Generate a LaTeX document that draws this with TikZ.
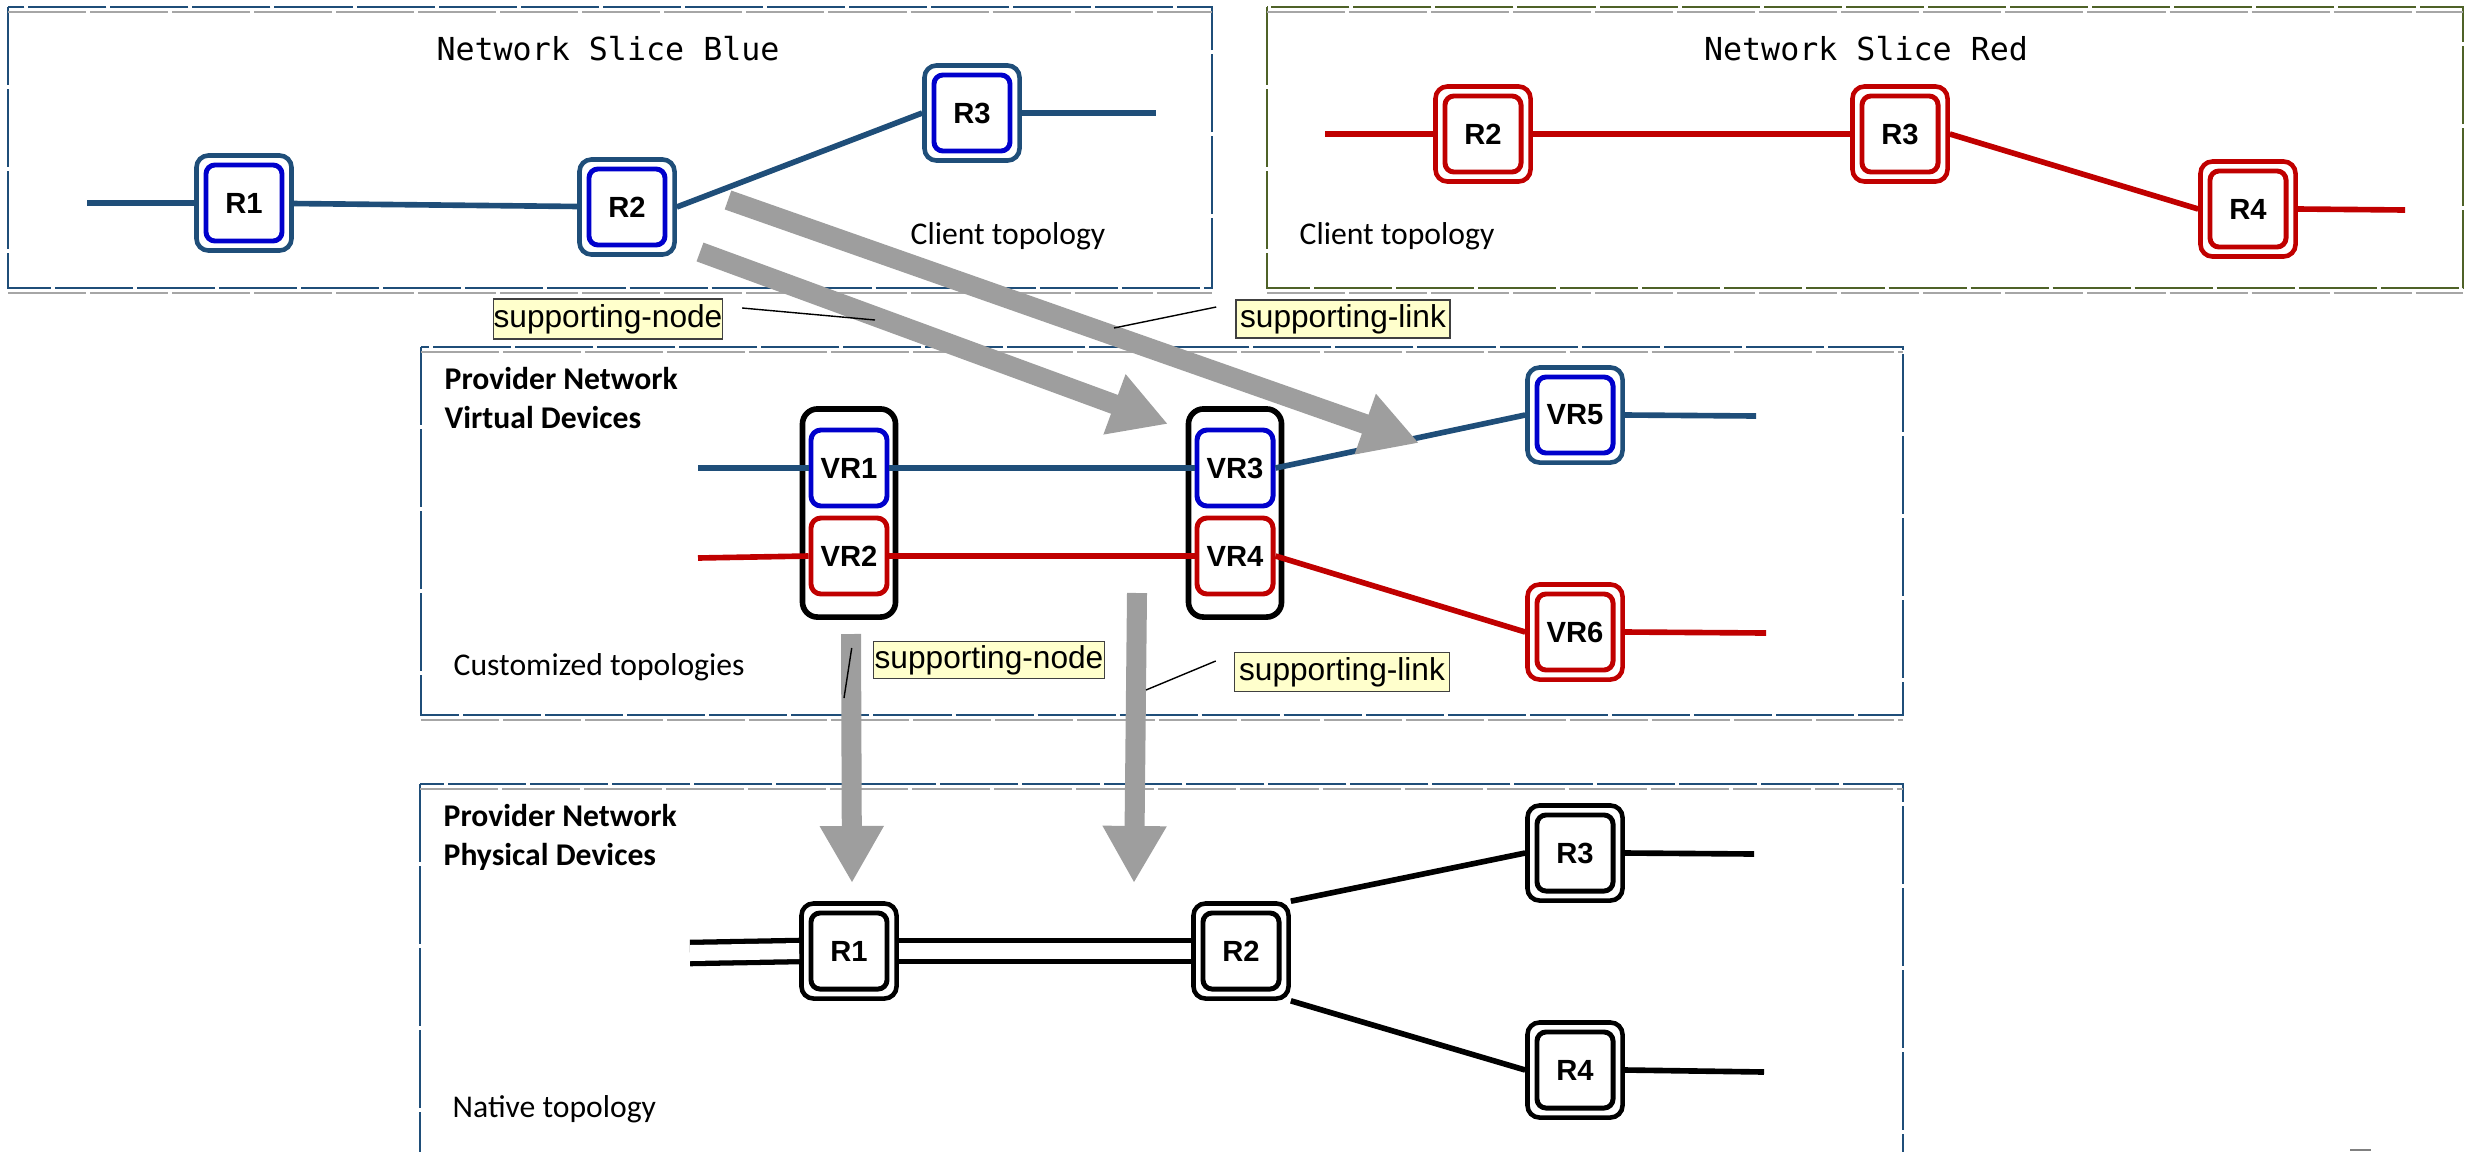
\documentclass[tikz,border=0pt]{standalone}
\usepackage{fontspec}
\setmainfont{Carlito}
\newfontfamily\arialfont{Liberation Sans}
\newfontfamily\monofont{DejaVu Sans Mono}
\usetikzlibrary{arrows.meta}

\definecolor{slateblue}{HTML}{1F4E79}
\definecolor{brightblue}{HTML}{0000CC}
\definecolor{darkred}{HTML}{C00000}
\definecolor{slicegreen}{HTML}{4F6228}
\definecolor{arrowgray}{HTML}{9E9E9E}
\definecolor{tagyellow}{HTML}{FFFFCC}

\newcommand\rtrfont{\arialfont\fontsize{8.3}{10}\selectfont\bfseries}

\begin{document}
\begin{tikzpicture}[
  x=0.01cm, y=-0.01cm,
  font=\fontsize{9}{11}\selectfont,
  rtr/.style 2 args={draw=#1, fill=white, line width=1.3pt, rounded corners=0.12cm,
              minimum size=0.95cm, inner sep=0pt, font=\rtrfont,
              path picture={\draw[#2, line width=1.4pt, rounded corners=0.09cm]
                ([shift={(0.095cm,-0.095cm)}]path picture bounding box.north west) rectangle
                ([shift={(-0.095cm,0.095cm)}]path picture bounding box.south east);}},
  vr/.style={draw=#1, fill=white, line width=1.4pt, rounded corners=0.1cm,
             minimum size=0.76cm, inner sep=0pt, font=\rtrfont},
  grp/.style={draw=black, line width=1.6pt, rounded corners=0.15cm,
              minimum width=0.93cm, minimum height=2.08cm, inner sep=0pt},
  wire/.style={draw=#1, line width=1.6pt},
  dblwire/.style={draw=black, line width=1.5pt, double=white, double distance=0.16cm},
  slicebox/.style={draw=#1, line width=0.8pt, dash pattern=on 0.78cm off 0.04cm},
  ghostline/.style={draw=black!35, line width=0.7pt, dash pattern=on 0.78cm off 0.04cm},
  slicetitle/.style={font=\monofont\fontsize{9}{11}\selectfont},
  caption/.style={anchor=west, align=left, inner xsep=0pt},
  heading/.style={anchor=west, align=left, inner xsep=0pt,
                  font=\fontsize{9}{11.1}\selectfont\bfseries},
  tagbox/.style={draw=black!75, fill=tagyellow, line width=0.4pt, inner sep=0pt,
                 font=\arialfont\fontsize{9}{11}\selectfont},
  lead/.style={draw=black, line width=0.4pt},
  bigarr/.style={draw=arrowgray, line width=0.2cm, -{Triangle[length=0.57cm,width=0.6cm]}},
]
\useasboundingbox (0,0) rectangle (2467,1151);
\clip (0,0) rectangle (2467,1151);

% ---- frames ----
\draw[slicebox=slateblue]  (8,7)     rectangle (1212,288);
\draw[slicebox=slicegreen] (1267,7)  rectangle (2463,288);
\draw[slicebox=slateblue]  (421,347) rectangle (1903,715);
\draw[slicebox=slateblue]  (420,784) rectangle (1903,1200);
\draw[ghostline] (8,12) -- (1212,12) (8,293) -- (1212,293)
  (1267,12) -- (2463,12) (1267,293) -- (2463,293)
  (421,352) -- (1903,352) (421,720) -- (1903,720)
  (420,789) -- (1903,789);

% ---- network slice blue ----
\node[slicetitle] (tblue) at (608,49) {Network Slice Blue};
\node[rtr={slateblue}{brightblue}] (b1) at (244,203) {R1};
\node[rtr={slateblue}{brightblue}] (b2) at (627,207) {R2};
\node[rtr={slateblue}{brightblue}] (b3) at (972,113) {R3};
\node (cblue) at (1008,236) {Client topology};
\coordinate (b1in)  at (87,203);
\coordinate (b3out) at (1156,113);
\draw[wire=slateblue] (b1in) -- (b1.west);
\draw[wire=slateblue] (b1) -- (b2);
\draw[wire=slateblue] (b2.east) -- (b3.west);
\draw[wire=slateblue] (b3.east) -- (b3out);

% ---- network slice red ----
\node[slicetitle] (tred) at (1866,49) {Network Slice Red};
\node[rtr={darkred}{darkred}] (rd2) at (1483,134) {R2};
\node[rtr={darkred}{darkred}] (rd3) at (1900,134) {R3};
\node[rtr={darkred}{darkred}] (rd4) at (2248,209) {R4};
\node (cred) at (1397,236) {Client topology};
\coordinate (rd2in)  at (1325,134);
\coordinate (rd4out) at (2405,210);
\draw[wire=darkred] (rd2in) -- (rd2.west);
\draw[wire=darkred] (rd2) -- (rd3);
\draw[wire=darkred] (rd3.east) -- (rd4.west);
\draw[wire=darkred] (rd4.east) -- (rd4out);

% ---- virtual devices ----
\node[heading] (hvirt) at (444,398) {Provider Network\\Virtual Devices};
\node[grp] (ga) at (849,513) {};
\node[grp] (gb) at (1235,513) {};
\node[vr=brightblue] (vr1) at (849,468) {VR1};
\node[vr=darkred]    (vr2) at (849,556) {VR2};
\node[vr=brightblue] (vr3) at (1235,468) {VR3};
\node[vr=darkred]    (vr4) at (1235,556) {VR4};
\node[rtr={slateblue}{brightblue}] (vr5) at (1575,415) {VR5};
\node[rtr={darkred}{darkred}]      (vr6) at (1575,632) {VR6};
\node[caption] (cvirt) at (453,667) {Customized topologies};
\coordinate (vr1in)  at (698,468);
\coordinate (vr2in)  at (698,558);
\coordinate (vr5out) at (1756,416);
\coordinate (vr6out) at (1766,633);
\draw[wire=slateblue] (vr1in) -- (vr1.west);
\draw[wire=slateblue] (vr1) -- (vr3);
\draw[wire=slateblue] (vr3.east) -- (vr5.west);
\draw[wire=slateblue] (vr5.east) -- (vr5out);
\draw[wire=darkred] (vr2in) -- (vr2.west);
\draw[wire=darkred] (vr2) -- (vr4);
\draw[wire=darkred] (vr4.east) -- (vr6.west);
\draw[wire=darkred] (vr6.east) -- (vr6out);

% ---- physical devices ----
\node[heading] (hphys) at (443,837) {Provider Network\\Physical Devices};
\node[rtr={black}{black}] (p1) at (849,951) {R1};
\node[rtr={black}{black}] (p2) at (1241,951) {R2};
\node[rtr={black}{black}] (p3) at (1575,853) {R3};
\node[rtr={black}{black}] (p4) at (1575,1070) {R4};
\node[caption] (cphys) at (452,1109) {Native topology};
\coordinate (p1in)  at (690,953);
\coordinate (p3out) at (1754,854);
\coordinate (p4out) at (1764,1072);
\draw[dblwire] (p1in) -- (p1.west);
\draw[dblwire] (p1) -- (p2);
\draw[wire=black] (p2.north east) -- (p3.west);
\draw[wire=black] (p2.south east) -- (p4.west);
\draw[wire=black] (p3.east) -- (p3out);
\draw[wire=black] (p4.east) -- (p4out);

% ---- mapping arrows ----
\coordinate (m1a) at (700,252);   \coordinate (m1b) at (1168,424);
\coordinate (m2a) at (728,200);   \coordinate (m2b) at (1419,443);
\coordinate (m3a) at (851,634);   \coordinate (m3b) at (852,883);
\coordinate (m4a) at (1137,593);  \coordinate (m4b) at (1134,883);
\draw[bigarr] (m1a) -- (m1b);
\draw[bigarr] (m2a) -- (m2b);
\draw[bigarr] (m3a) -- (m3b);
\draw[bigarr] (m4a) -- (m4b);

% ---- supporting tags ----
\node[tagbox, minimum width=2.26cm, minimum height=0.40cm] (tn1) at (608,319) {supporting-node};
\node[tagbox, minimum width=2.14cm, minimum height=0.38cm] (tl1) at (1343,319) {supporting-link};
\node[tagbox, minimum width=2.31cm, minimum height=0.37cm] (tn2) at (989,660) {supporting-node};
\node[tagbox, minimum width=2.15cm, minimum height=0.39cm] (tl2) at (1342,672) {supporting-link};
\coordinate (tn1end) at (875,320);
\coordinate (tl1end) at (1114,328);
\coordinate (tn2end) at (844,698);
\coordinate (tl2end) at (1146,690);
\draw[lead] ([xshift=0.19cm,yshift=0.11cm]tn1.east) -- (tn1end);
\draw[lead] ([xshift=-0.19cm,yshift=0.12cm]tl1.west) -- (tl1end);
\draw[lead] ([xshift=-0.21cm,yshift=0.12cm]tn2.west) -- (tn2end);
\draw[lead] ([xshift=-0.18cm,yshift=0.11cm]tl2.west) -- (tl2end);

\draw[draw=black!50, line width=0.6pt] (2350,1150) -- (2371,1150);
\end{tikzpicture}
\end{document}
